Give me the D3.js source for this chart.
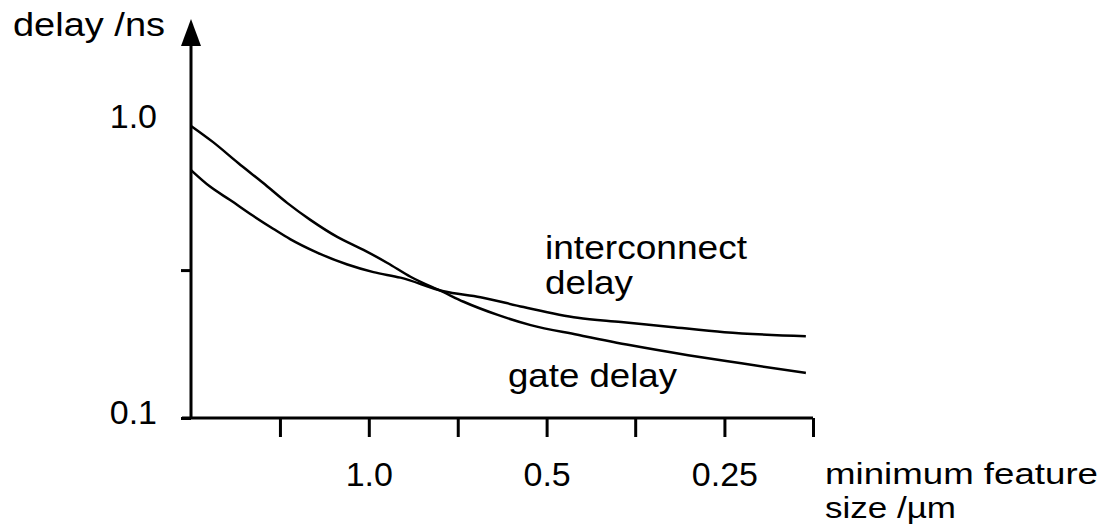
<!DOCTYPE html>
<html>
<head>
<meta charset="utf-8">
<script src="https://cdn.jsdelivr.net/npm/d3@7"></script>
<style>
  body { margin: 0; background: #fff; }
  text { font-family: "Liberation Sans", Arial, sans-serif; fill: #000; }
</style>
</head>
<body>
<div id="chart"></div>
<script>
// feature size (um) and delay (ns)
const gateSize = [2.0, 1.835, 1.664, 1.509, 1.375, 1.256, 1.131, 1.021, 0.930, 0.850, 0.747, 0.691, 0.605, 0.532, 0.443, 0.360, 0.288, 0.234, 0.182];
const gateDelay = [0.97, 0.855, 0.727, 0.622, 0.533, 0.467, 0.409, 0.370, 0.334, 0.300, 0.266, 0.247, 0.223, 0.206, 0.191, 0.176, 0.163, 0.153, 0.142];

const wireSize = [2.0, 1.857, 1.717, 1.570, 1.452, 1.359, 1.223, 1.087, 0.982, 0.884, 0.747, 0.647, 0.547, 0.443, 0.374, 0.308, 0.250, 0.182];
const wireDelay = [0.688, 0.605, 0.545, 0.482, 0.436, 0.402, 0.362, 0.330, 0.311, 0.298, 0.268, 0.256, 0.237, 0.218, 0.211, 0.203, 0.195, 0.189];

// ticks: half-octave steps along x, half-decade on y
const xTicks = [1.414, 1.0, 0.707, 0.5, 0.354, 0.25, 0.177];
const xTickLabels = ["", "1.0", "", "0.5", "", "0.25", ""];
const yTicks = [0.1, 0.316, 1.0];
const yTickLabels = ["0.1", "", "1.0"];

const W = 1099, H = 526;
const FS = 34;

const svg = d3.select("#chart").append("svg")
  .attr("width", W)
  .attr("height", H);

// x runs from large feature size to small
const x = d3.scaleLog().domain([2.0, 0.177]).range([191, 813]);
const y = d3.scaleLog().domain([0.1, 1.0]).range([418, 122]);

// x ticks + labels
const xAxis = svg.append("g")
  .attr("transform", "translate(0," + y(0.1) + ")")
  .call(d3.axisBottom(x)
    .tickValues(xTicks)
    .tickSize(19)
    .tickPadding(25)
    .tickFormat((d, i) => xTickLabels[i]));
xAxis.select(".domain").remove();
xAxis.selectAll(".tick line").attr("stroke", "#000").attr("stroke-width", 3);
xAxis.selectAll(".tick text")
  .attr("font-size", FS)
  .attr("font-family", "Liberation Sans, Arial, sans-serif")
  .attr("fill", "#000");

// y ticks + labels (no tick mark at 1.0)
const yAxis = svg.append("g")
  .attr("transform", "translate(" + x(2.0) + ",0)")
  .call(d3.axisLeft(y)
    .tickValues(yTicks)
    .tickSize(10)
    .tickPadding(24)
    .tickFormat((d, i) => yTickLabels[i]));
yAxis.select(".domain").remove();
yAxis.selectAll(".tick line")
  .attr("stroke", "#000")
  .attr("stroke-width", 3)
  .attr("opacity", (d) => d === 1.0 ? 0 : 1);
yAxis.selectAll(".tick text")
  .attr("font-size", FS)
  .attr("font-family", "Liberation Sans, Arial, sans-serif")
  .attr("fill", "#000")
  .attr("dy", "0.15em");

// axis lines
svg.append("line")
  .attr("x1", x(2.0) - 9).attr("x2", x(0.177))
  .attr("y1", y(0.1)).attr("y2", y(0.1))
  .attr("stroke", "#000").attr("stroke-width", 3);
svg.append("line")
  .attr("x1", x(2.0)).attr("x2", x(2.0))
  .attr("y1", y(0.1)).attr("y2", 44)
  .attr("stroke", "#000").attr("stroke-width", 3);

// arrow head
const ax = x(2.0);
svg.append("path")
  .attr("d", "M" + ax + ",19 L" + (ax - 10) + ",46 L" + (ax + 10) + ",46 Z")
  .attr("fill", "#000");

// curves
const line = d3.line()
  .x((d) => x(d[0]))
  .y((d) => y(d[1]))
  .curve(d3.curveMonotoneX);

svg.append("path")
  .datum(gateSize.map((s, i) => [s, gateDelay[i]]))
  .attr("d", line)
  .attr("fill", "none")
  .attr("stroke", "#000")
  .attr("stroke-width", 2.5);

svg.append("path")
  .datum(wireSize.map((s, i) => [s, wireDelay[i]]))
  .attr("d", line)
  .attr("fill", "none")
  .attr("stroke", "#000")
  .attr("stroke-width", 2.5);

// labels
function label(txt, px, py, len, fs) {
  const t = svg.append("text")
    .attr("x", px)
    .attr("y", py)
    .attr("font-size", fs || FS)
    .text(txt);
  if (len) t.attr("textLength", len).attr("lengthAdjust", "spacingAndGlyphs");
  return t;
}

label("delay /ns", 13, 36, 152);
label("interconnect", 545, 259, 202);
label("delay", 545, 294, 88);
label("gate delay", 508, 387, 169);
label("minimum  feature", 825, 484, 273, 29);
label("size /\u00b5m", 825, 518, 131, 29);
</script>
</body>
</html>
